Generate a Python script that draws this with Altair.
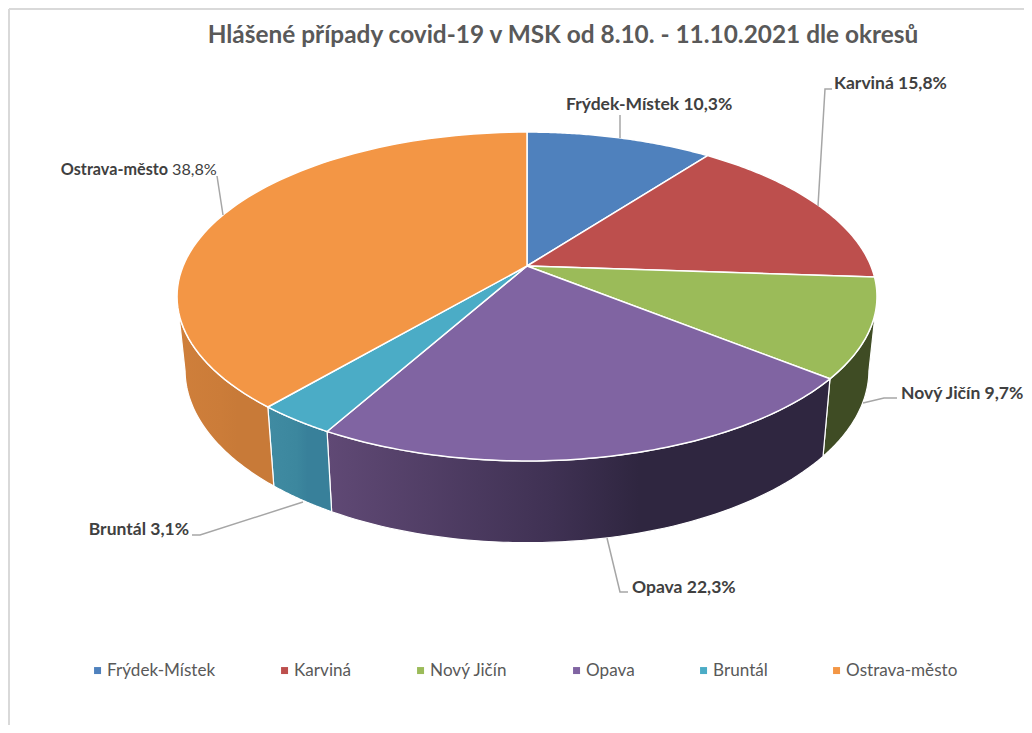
import numpy as np
import pandas as pd
import altair as alt

TITLE = "Hlášené případy covid-19 v MSK od 8.10. - 11.10.2021 dle okresů"
names = ["Frýdek-Místek", "Karviná", "Nový Jičín", "Opava", "Bruntál", "Ostrava-město"]
shares = [10.3, 15.8, 9.7, 22.3, 3.1, 38.8]
share_text = ["10,3%", "15,8%", "9,7%", "22,3%", "3,1%", "38,8%"]
top_colors = ["#4f81bd", "#bd4f4d", "#9bbb59", "#8064a2", "#4bacc6", "#f39645"]
wall_left = [None, None, "#3f4c24", "#604975", "#408ba2", "#cf7f3b"]
wall_mid = [None, None, "#3f4c24", "#3f3153", "#3c879e", "#cb7c39"]
wall_right = [None, None, "#3f4c24", "#2f2640", "#38809a", "#c87a38"]

FONT = "Lato"
LABEL_SIZE = 17.5
W, H = 1016, 717
x_scale = alt.Scale(domain=[8, 8 + W], range=[0, W], nice=False, zero=False)
y_scale = alt.Scale(domain=[8 + H, 8], range=[H, 0], nice=False, zero=False)
X = lambda f="x": alt.X(f"{f}:Q", scale=x_scale, axis=None)
Y = lambda f="y": alt.Y(f"{f}:Q", scale=y_scale, axis=None)

# perspective pie geometry
CX, CY, R, B, K = 527.0, 266.0, 343.9, 158.8, 0.1854
def top_xy(phi):
    u, v = np.sin(phi), np.cos(phi)
    d = 1 + K * v
    return CX + R * u / d, CY - B * v / d
def bottom_xy(phi):
    x, y = top_xy(phi)
    return CX + 0.977 * (x - CX), 338 + 1.05 * (y - CY)

edges = np.cumsum([0.0] + shares)
edges = edges / edges[-1] * 2 * np.pi
VIS_A, VIS_B = np.radians(101), np.radians(259)

layers = []

# side walls
for i in range(6):
    if wall_left[i] is None:
        continue
    a, b = max(edges[i], VIS_A), min(edges[i + 1], VIS_B)
    phi = np.linspace(a, b, 60)
    tx, ty = top_xy(phi)
    bx, by = bottom_xy(phi[::-1])
    xs = np.r_[tx, bx, tx[0]]
    ys = np.r_[ty, by, ty[0]]
    df = pd.DataFrame({"x": xs, "y": ys, "i": np.arange(len(xs))})
    grad = alt.Gradient(
        gradient="linear", x1=0, x2=1, y1=0, y2=0,
        stops=[alt.GradientStop(color=wall_left[i], offset=0),
               alt.GradientStop(color=wall_mid[i], offset=0.45),
               alt.GradientStop(color=wall_right[i], offset=0.62),
               alt.GradientStop(color=wall_right[i], offset=1)],
    )
    layers.append(
        alt.Chart(df).mark_line(fill=grad, stroke="#ffffff", strokeWidth=1.2, strokeJoin="round")
        .encode(x=X(), y=Y(), order=alt.Order("i:Q"))
    )

# top faces
for i in range(6):
    phi = np.linspace(edges[i], edges[i + 1], 80)
    ex, ey = top_xy(phi)
    xs = np.r_[CX, ex, CX]
    ys = np.r_[CY, ey, CY]
    df = pd.DataFrame({"x": xs, "y": ys, "i": np.arange(len(xs))})
    layers.append(
        alt.Chart(df).mark_line(fill=top_colors[i], stroke="#ffffff", strokeWidth=1.5, strokeJoin="round")
        .encode(x=X(), y=Y(), order=alt.Order("i:Q"))
    )

# leader lines
leaders = [
    [(620, 138), (620, 115)],
    [(818, 206), (825, 89), (832, 89)],
    [(863, 403), (884, 398), (897, 398)],
    [(607, 538), (620, 592), (628, 592)],
    [(303, 502), (200, 535), (192, 535)],
    [(223, 215), (217, 176)],
]
for pts in leaders:
    df = pd.DataFrame(pts, columns=["x", "y"]).assign(i=lambda d: d.index)
    layers.append(
        alt.Chart(df).mark_line(stroke="#a6a6a6", strokeWidth=1.5)
        .encode(x=X(), y=Y(), order=alt.Order("i:Q"))
    )

# data labels
label_pos = [(566, 105, "left"), (834, 84, "left"), (901, 394, "left"),
             (632, 588, "left"), (189, 530, "right")]
lab = pd.DataFrame({
    "x": [p[0] for p in label_pos], "y": [p[1] for p in label_pos],
    "t": [f"{n} {s}" for n, s in zip(names[:5], share_text[:5])],
    "a": [p[2] for p in label_pos],
})
for a in ("left", "right"):
    d = lab[lab.a == a]
    layers.append(
        alt.Chart(d).mark_text(font=FONT, fontSize=LABEL_SIZE, fontWeight="bold", color="#404040", align=a, baseline="middle")
        .encode(x=X(), y=Y(), text="t:N")
    )
ost = pd.DataFrame({"x": [168, 172], "y": [170, 170], "t": [names[5], share_text[5]]})
layers.append(
    alt.Chart(ost.iloc[[0]]).mark_text(font=FONT, fontSize=16.2, fontWeight="bold", color="#404040", align="right", baseline="middle")
    .encode(x=X(), y=Y(), text="t:N")
)
layers.append(
    alt.Chart(ost.iloc[[1]]).mark_text(font=FONT, fontSize=16.2, color="#404040", align="left", baseline="middle")
    .encode(x=X(), y=Y(), text="t:N")
)

# chart frame
frame_v = pd.DataFrame({"x": [9, 9], "y": [733, 9], "i": [0, 1]})
frame_h = pd.DataFrame({"x": [9, 1032], "y": [9, 9], "i": [0, 1]})
for fr in (frame_v, frame_h):
    layers.append(
        alt.Chart(fr).mark_line(stroke="#d9d9d9", strokeWidth=2)
        .encode(x=X(), y=Y(), order=alt.Order("i:Q"))
    )

# legend carrier
leg = pd.DataFrame({"name": names})
layers.append(
    alt.Chart(leg).mark_square(opacity=0).encode(
        color=alt.Color(
            "name:N",
            scale=alt.Scale(domain=names, range=top_colors),
            sort=names,
            legend=alt.Legend(
                title=None, orient="none", legendX=81, legendY=654, direction="horizontal",
                columns=6, gridAlign="none", columnPadding=60, symbolType="square", symbolSize=49,
                symbolOpacity=1, symbolStrokeWidth=0, labelFont=FONT, labelFontSize=17.1,
                labelColor="#595959", labelOffset=1, labelLimit=300,
            ),
        )
    )
)

chart = alt.layer(*layers).properties(
    width=W, height=H,
    padding=0,
    autosize=alt.AutoSizeParams(type="none"),
    title=alt.TitleParams(
        TITLE, font=FONT, fontSize=24.4, fontWeight="bold", color="#595959",
        anchor="middle", frame="group", dx=47, offset=-43,
    ),
    background="#ffffff",
).configure_view(stroke=None)

chart.save("out.html", embed_options={"renderer": "svg", "actions": False})
